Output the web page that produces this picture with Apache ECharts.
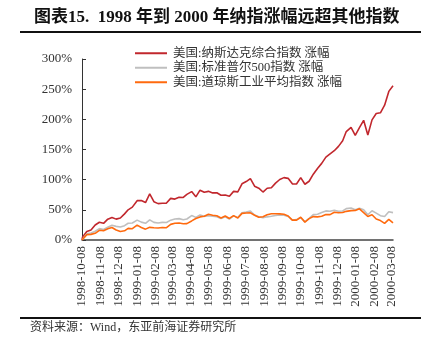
<!DOCTYPE html>
<html><head><meta charset="utf-8">
<script src="https://cdn.jsdelivr.net/npm/echarts@6/dist/echarts.min.js"></script>
<style>html,body{margin:0;padding:0;background:#fff}#c{width:435px;height:351px}</style>
</head><body><div id="c"></div>
<script>
const startDate = '1998-10-08';
const endDate = '2000-03-10';
const tickLabels = ['1998-10-08','1998-11-08','1998-12-08','1999-01-08','1999-02-08','1999-03-08','1999-04-08','1999-05-08','1999-06-08','1999-07-08','1999-08-08','1999-09-08','1999-10-08','1999-11-08','1999-12-08','2000-01-08','2000-02-08','2000-03-08'];
const seriesNames = ['美国:纳斯达克综合指数 涨幅','美国:标准普尔500指数 涨幅','美国:道琼斯工业平均指数 涨幅'];
const sampleDates = ['1998-10-08','1998-10-09','1998-10-16','1998-10-23','1998-10-30','1998-11-06','1998-11-13','1998-11-20','1998-11-27','1998-12-04','1998-12-11','1998-12-18','1998-12-24','1998-12-31',
'1999-01-08','1999-01-15','1999-01-22','1999-01-29','1999-02-05','1999-02-12','1999-02-19','1999-02-26','1999-03-05','1999-03-12','1999-03-19','1999-03-26','1999-04-01','1999-04-09','1999-04-16','1999-04-23','1999-04-30','1999-05-07','1999-05-14','1999-05-21','1999-05-28','1999-06-04','1999-06-11','1999-06-18','1999-06-25','1999-07-02','1999-07-09','1999-07-16','1999-07-23','1999-07-30','1999-08-06','1999-08-13','1999-08-20','1999-08-27','1999-09-03','1999-09-10','1999-09-17','1999-09-24','1999-10-01','1999-10-08','1999-10-15','1999-10-22','1999-10-29','1999-11-05','1999-11-12','1999-11-19','1999-11-26','1999-12-03','1999-12-10','1999-12-17','1999-12-23','1999-12-31',
'2000-01-07','2000-01-14','2000-01-21','2000-01-28','2000-02-04','2000-02-11','2000-02-18','2000-02-25','2000-03-03','2000-03-10'];
const nasdaq = [0,5.1,14.2,16.6,24.8,29.4,27.6,34.5,37.4,34.6,36.4,43.3,50.0,54.5,
65.2,65.5,62.1,76.5,63.5,60.3,60.9,61.2,69.0,67.8,70.7,70.5,75.7,80.2,71.5,82.6,79.1,80.6,78.1,78.4,74.1,74.6,72.5,80.6,79.8,93.2,96.9,101.8,89.2,85.9,79.5,85.8,86.6,94.3,100.3,103.4,102.2,93.1,92.8,103.4,92.4,97.4,109.1,118.6,127.0,137.4,142.9,148.0,155.2,164.5,179.7,186.7,
173.6,186.4,198.4,173.9,199.1,209.7,210.8,223.4,246.3,255.7];
const sp500 = [0,2.6,10.1,11.6,14.5,18.9,17.3,21.3,24.3,22.6,21.6,23.8,27.8,28.1,
32.9,29.6,27.7,33.4,29.2,28.2,29.2,29.1,32.9,34.9,35.4,33.7,34.8,40.5,37.5,41.4,39.2,40.2,39.4,38.7,35.7,38.4,34.8,40.0,37.1,45.0,46.3,47.9,41.4,38.5,36.9,38.4,39.3,40.5,41.5,40.9,39.2,33.1,33.7,37.3,30.0,35.7,42.1,42.8,45.5,48.2,47.7,49.4,47.7,48.1,52.0,53.1,
50.2,52.7,50.2,41.8,48.5,44.6,40.3,39.0,46.9,45.4];
const dow = [0,2.2,8.9,9.3,11.1,16.1,15.4,18.5,20.7,16.6,14.1,15.2,19.2,18.7,
24.7,20.8,18.0,21.0,20.3,20.0,20.8,20.4,25.9,27.7,28.1,27.0,27.2,31.6,35.7,38.3,39.5,42.7,41.1,40.1,36.6,39.7,35.7,40.4,36.5,44.1,44.8,45.0,41.1,37.8,38.6,41.9,43.6,43.4,43.3,42.6,39.7,32.9,32.9,37.7,29.6,35.4,38.8,38.4,39.3,42.3,42.1,46.0,45.2,45.6,47.5,48.7,
49.0,51.6,45.5,38.9,41.8,34.8,32.2,27.6,34.1,28.4];

// calendar-day categories for the x axis
const cats = [];
(function(){
  let d = new Date(startDate + 'T00:00:00Z');
  const e = new Date(endDate + 'T00:00:00Z');
  while (d <= e) { cats.push(d.toISOString().slice(0,10)); d = new Date(d.getTime() + 86400000); }
})();
const pair = vals => sampleDates.map((d,i) => [cats.indexOf(d), vals[i]]);

const serif = '"Liberation Serif", "Noto Sans CJK SC", serif';
const chart = echarts.init(document.getElementById('c'), null, {renderer:'canvas'});
chart.setOption({
  animation:false,
  backgroundColor:'#fff',
  title:{text:'图表15.  1998 年到 2000 年纳指涨幅远超其他指数', left:29, top:4,
    textStyle:{fontFamily:serif, fontWeight:'bold', fontSize:17, color:'#111'}},
  legend:{orient:'vertical', left:135, top:47, padding:0, icon:'rect', itemWidth:32, itemHeight:2, itemGap:2,
    textStyle:{fontFamily:serif, fontSize:12.5, color:'#333', padding:[0,0,0,1]},
    data:seriesNames},
  grid:{left:82, right:42, top:59, bottom:111, containLabel:false},
  xAxis:{type:'category', data:cats, boundaryGap:false,
    axisLine:{lineStyle:{color:'#444', width:1.5}},
    axisTick:{show:false},
    axisLabel:{rotate:90, fontFamily:serif, fontSize:13, color:'#333', margin:6,
      interval:(i,v)=>tickLabels.indexOf(v)>=0}},
  yAxis:{type:'value', min:0, max:300, interval:50,
    axisLine:{show:true, lineStyle:{color:'#333', width:1}},
    axisTick:{show:true, inside:true, length:4, lineStyle:{color:'#333'}},
    splitLine:{show:false},
    axisLabel:{formatter:'{value}%', fontFamily:serif, fontSize:13, color:'#333', margin:10}},
  series:[
    {name:seriesNames[0], type:'line', symbol:'none', data:pair(nasdaq), lineStyle:{width:1.6, color:'#C1272D'}, itemStyle:{color:'#C1272D'}},
    {name:seriesNames[1], type:'line', symbol:'none', data:pair(sp500), lineStyle:{width:1.6, color:'#BFBFBF'}, itemStyle:{color:'#BFBFBF'}},
    {name:seriesNames[2], type:'line', symbol:'none', data:pair(dow), lineStyle:{width:1.6, color:'#FF6A0E'}, itemStyle:{color:'#FF6A0E'}}
  ],
  graphic:[
    {type:'line', shape:{x1:20,y1:32,x2:421,y2:32}, style:{stroke:'#111', lineWidth:2}},
    {type:'line', shape:{x1:20,y1:318,x2:421,y2:318}, style:{stroke:'#111', lineWidth:2}},
    {type:'text', left:30, top:322, style:{text:'资料来源：Wind，东亚前海证券研究所', font:'12px "Liberation Serif", "Noto Sans CJK SC", serif', fill:'#333'}}
  ]
});
</script></body></html>
